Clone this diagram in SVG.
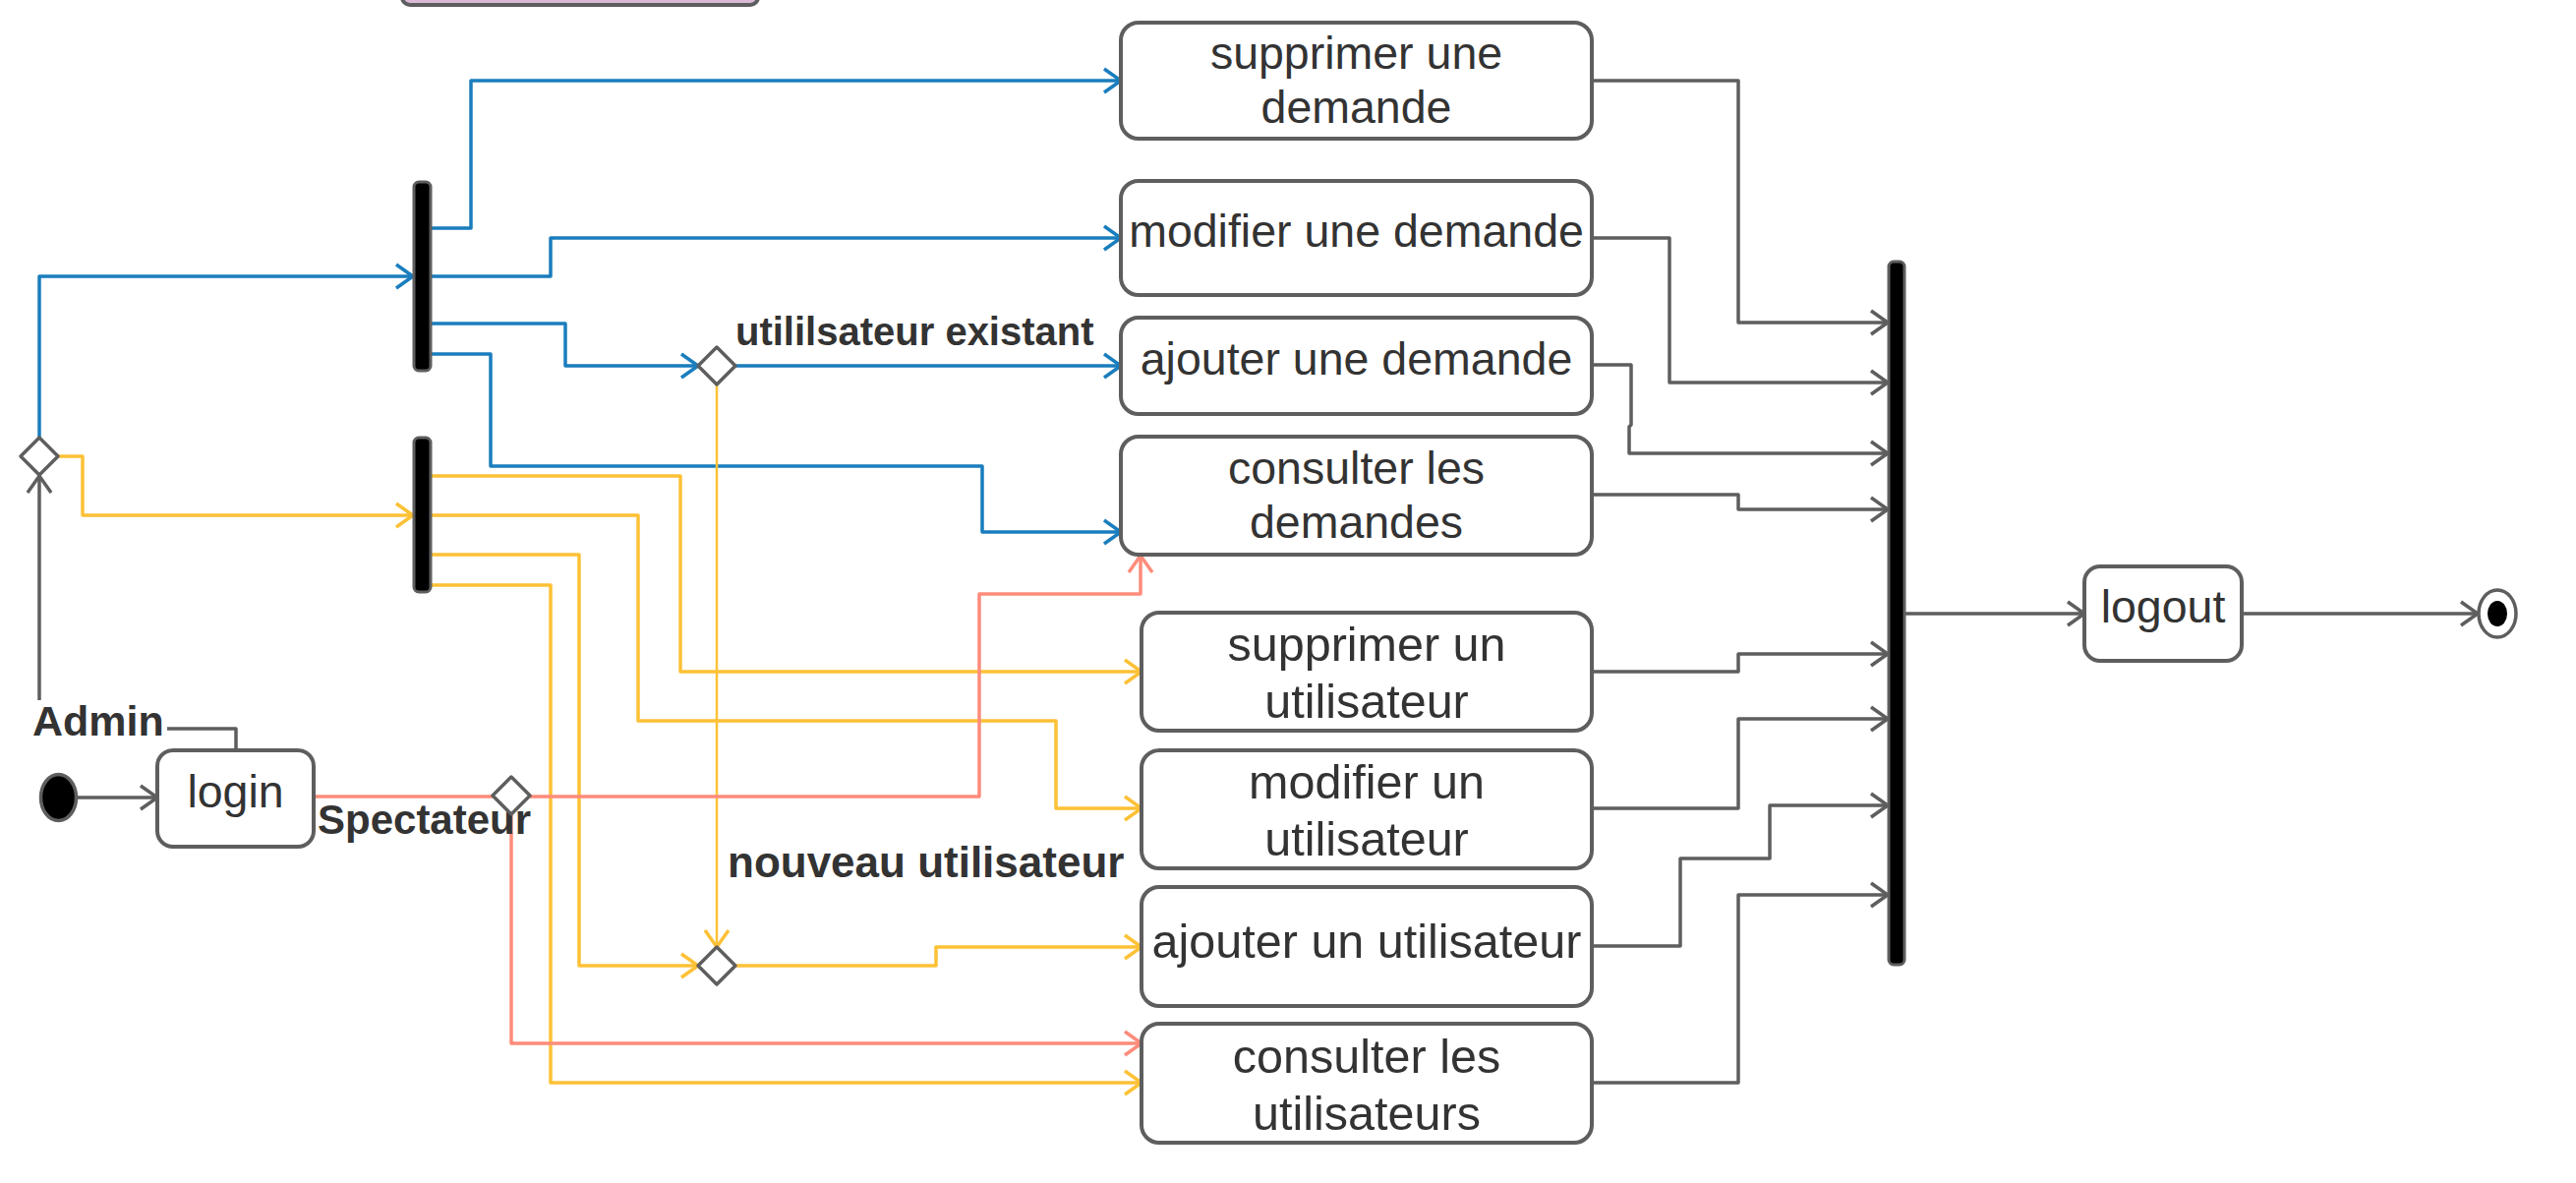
<svg xmlns="http://www.w3.org/2000/svg" width="2620" height="1203" viewBox="0 0 2620 1203">
<style>
.box{fill:#ffffff;stroke:#5e5e5e;stroke-width:4}
.bar{fill:#000000;stroke:#5e5e5e;stroke-width:3}
.dia{fill:#ffffff;stroke:#5e5e5e;stroke-width:3.5;stroke-linejoin:round}
.t{font-family:"Liberation Sans",Arial,sans-serif;font-size:46.5px;fill:#333333;text-anchor:middle}
.u{font-size:48.5px}
.lbl{font-family:"Liberation Sans",Arial,sans-serif;font-weight:bold;fill:#333333}
.c{fill:none;stroke-width:3.5;stroke-linejoin:round}
.g{stroke:#5e5e5e;marker-end:url(#ag)}
.b{stroke:#1a7dbd;marker-end:url(#ab)}
.y{stroke:#fdc136;marker-end:url(#ay)}
.s{stroke:#fe8c7b;marker-end:url(#as)}
</style>
<defs>
<marker id="ag" markerUnits="userSpaceOnUse" markerWidth="24" markerHeight="30" refX="19" refY="14" orient="auto"><path d="M2,2 L19,14 L2,26" fill="none" stroke="#5e5e5e" stroke-width="3.5"/></marker>
<marker id="ab" markerUnits="userSpaceOnUse" markerWidth="24" markerHeight="30" refX="19" refY="14" orient="auto"><path d="M2,2 L19,14 L2,26" fill="none" stroke="#1a7dbd" stroke-width="3.5"/></marker>
<marker id="ay" markerUnits="userSpaceOnUse" markerWidth="24" markerHeight="30" refX="19" refY="14" orient="auto"><path d="M2,2 L19,14 L2,26" fill="none" stroke="#fdc136" stroke-width="3.5"/></marker>
<marker id="as" markerUnits="userSpaceOnUse" markerWidth="24" markerHeight="30" refX="19" refY="14" orient="auto"><path d="M2,2 L19,14 L2,26" fill="none" stroke="#fe8c7b" stroke-width="3.5"/></marker>
</defs>
<rect width="2620" height="1203" fill="#ffffff"/>

<g id="top-node"><rect x="409" y="-40" width="362" height="45" rx="8" fill="#dbbad8" stroke="#5e5e5e" stroke-width="4"/></g>

<g id="connectors">
<path class="c g" d="M79,811 L160,811"/>
<path class="c g" d="M240,763 L240,741 L40,741 L40,484"/>
<path class="c g" d="M1619,82 L1768,82 L1768,328 L1920,328"/>
<path class="c g" d="M1619,242 L1698,242 L1698,389 L1920,389"/>
<path class="c g" d="M1619,371 L1659,371 L1659,432 L1657,434 L1657,461 L1920,461"/>
<path class="c g" d="M1619,503 L1768,503 L1768,518 L1920,518"/>
<path class="c g" d="M1619,683 L1768,683 L1768,665 L1920,665"/>
<path class="c g" d="M1619,822 L1768,822 L1768,731 L1920,731"/>
<path class="c g" d="M1619,962 L1709,962 L1709,873 L1800,873 L1800,819 L1920,819"/>
<path class="c g" d="M1619,1101 L1768,1101 L1768,910 L1920,910"/>
<path class="c g" d="M1938,624 L2120,624"/>
<path class="c g" d="M2280,624 L2520,624"/>
<path class="c b" d="M40,445 L40,281 L420,281"/>
<path class="c b" d="M438,232 L479,232 L479,82 L1140,82"/>
<path class="c b" d="M438,281 L560,281 L560,242 L1140,242"/>
<path class="c b" d="M438,329 L575,329 L575,372 L710,372"/>
<path class="c b" d="M748,372 L1140,372"/>
<path class="c b" d="M438,360 L499,360 L499,474 L999,474 L999,541 L1140,541"/>
<path class="c y" d="M59,464 L84,464 L84,524 L420,524"/>
<path class="c y" d="M438,484 L692,484 L692,683 L1161,683"/>
<path class="c y" d="M438,524 L649,524 L649,733 L1074,733 L1074,822 L1161,822"/>
<path class="c y" d="M438,564 L589,564 L589,982 L710,982"/>
<path class="c y" d="M748,982 L952,982 L952,963 L1161,963"/>
<path class="c y" d="M438,595 L560,595 L560,1101 L1161,1101"/>
<path class="c y" style="stroke-width:2.5" d="M729,391 L729,963"/>
<path class="c" stroke="#fe8c7b" d="M320,810 L501,810"/>
<path class="c s" d="M539,810 L996,810 L996,604 L1160,604 L1160,565"/>
<path class="c s" d="M520,829 L520,1061 L1161,1061"/>
</g>

<g id="labels">
<rect x="30" y="712" width="140" height="42" fill="#ffffff"/>
<text class="lbl" x="33" y="748" font-size="43">Admin</text>
<text class="lbl" x="323" y="848" font-size="42">Spectateur</text>
<text class="lbl" x="748" y="351" font-size="40">utililsateur existant</text>
<text class="lbl" x="740" y="892" font-size="44">nouveau utilisateur</text>
</g>

<g id="start"><ellipse cx="59.5" cy="811" rx="18" ry="23.5" fill="#000000" stroke="#5e5e5e" stroke-width="3.5"/></g>
<g id="login"><rect class="box" x="160" y="763" width="159" height="98" rx="16"/><text class="t" x="239.5" y="821">login</text></g>
<g id="decision-role"><path class="dia" d="M40,445 L59,464 L40,483 L21,464 Z"/></g>
<g id="decision-spectateur"><path class="dia" d="M520,790 L539,809 L520,828 L501,809 Z"/></g>
<g id="fork-demandes"><rect class="bar" x="421" y="185" width="17" height="192" rx="5"/></g>
<g id="fork-utilisateurs"><rect class="bar" x="421" y="445" width="17" height="157" rx="5"/></g>
<g id="decision-existant"><path class="dia" d="M729,353 L748,372 L729,391 L710,372 Z"/></g>
<g id="decision-nouveau"><path class="dia" d="M729,963 L748,982 L729,1001 L710,982 Z"/></g>

<g id="supprimer-demande"><rect class="box" x="1140" y="23" width="479" height="118" rx="18"/><text class="t" x="1379.5" y="70">supprimer une</text><text class="t" x="1379.5" y="125">demande</text></g>
<g id="modifier-demande"><rect class="box" x="1140" y="184" width="479" height="116" rx="18"/><text class="t" x="1379.5" y="251">modifier une demande</text></g>
<g id="ajouter-demande"><rect class="box" x="1140" y="323" width="479" height="98" rx="18"/><text class="t" x="1379.5" y="381">ajouter une demande</text></g>
<g id="consulter-demandes"><rect class="box" x="1140" y="444" width="479" height="120" rx="18"/><text class="t" x="1379.5" y="492">consulter les</text><text class="t" x="1379.5" y="547">demandes</text></g>
<g id="supprimer-utilisateur"><rect class="box" x="1161" y="623" width="458" height="120" rx="18"/><text class="t u" x="1390" y="672">supprimer un</text><text class="t u" x="1390" y="730">utilisateur</text></g>
<g id="modifier-utilisateur"><rect class="box" x="1161" y="763" width="458" height="120" rx="18"/><text class="t u" x="1390" y="812">modifier un</text><text class="t u" x="1390" y="870">utilisateur</text></g>
<g id="ajouter-utilisateur"><rect class="box" x="1161" y="902" width="458" height="121" rx="18"/><text class="t u" x="1390" y="974">ajouter un utilisateur</text></g>
<g id="consulter-utilisateurs"><rect class="box" x="1161" y="1041" width="458" height="121" rx="18"/><text class="t u" x="1390" y="1091">consulter les</text><text class="t u" x="1390" y="1149">utilisateurs</text></g>

<g id="join"><rect class="bar" x="1921" y="266" width="16" height="715" rx="5"/></g>
<g id="logout"><rect class="box" x="2120" y="576" width="160" height="96" rx="16"/><text class="t" x="2200" y="633">logout</text></g>
<g id="end"><ellipse cx="2540" cy="624" rx="19" ry="24" fill="#ffffff" stroke="#5e5e5e" stroke-width="3.5"/><ellipse cx="2540" cy="624" rx="10" ry="13" fill="#000000"/></g>
</svg>
